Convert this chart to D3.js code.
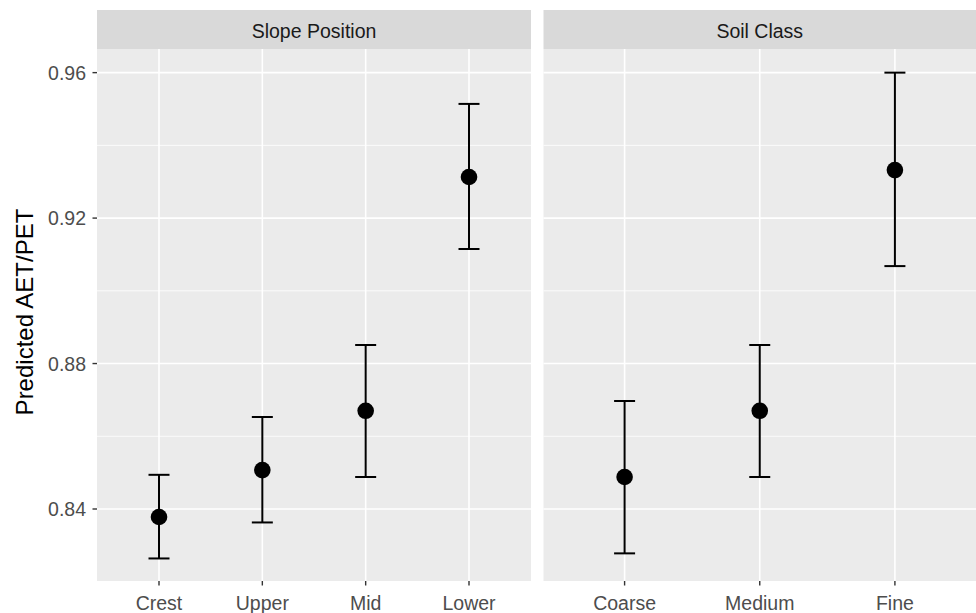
<!DOCTYPE html>
<html>
<head>
<meta charset="utf-8">
<script src="https://cdn.jsdelivr.net/npm/d3@7"></script>
<style>
  body { margin: 0; background: #fff; }
  svg text { font-family: "Liberation Sans", Arial, sans-serif; }
</style>
</head>
<body>
<svg id="chart" width="976" height="613"></svg>
<script>
// facet labels
const facets = ["Slope Position", "Soil Class"];

// Slope Position
const slopeCats = ["Crest", "Upper", "Mid", "Lower"];
const slopeFit = [0.8378, 0.8507, 0.8670, 0.9313];
const slopeLo = [0.8264, 0.8363, 0.8488, 0.9115];
const slopeHi = [0.8494, 0.8653, 0.8851, 0.9514];

// Soil Class
const soilCats = ["Coarse", "Medium", "Fine"];
const soilFit = [0.8488, 0.8670, 0.9332];
const soilLo = [0.8278, 0.8488, 0.9068];
const soilHi = [0.8697, 0.8851, 0.9600];

const yTicks = [0.84, 0.88, 0.92, 0.96];
const yMinor = [0.82, 0.86, 0.90, 0.94];

const svg = d3.select("svg#chart");

const panelTop = 49, panelBottom = 581, stripTop = 10;
const panels = [
  { x0: 97, x1: 531, cats: slopeCats, fit: slopeFit, lo: slopeLo, hi: slopeHi, label: facets[0] },
  { x0: 543.5, x1: 976, cats: soilCats, fit: soilFit, lo: soilLo, hi: soilHi, label: facets[1] }
];

// shared y scale
const yScale = d3.scaleLinear()
  .domain([0.8202, 0.9665])
  .range([panelBottom, panelTop]);

panels.forEach((p, i) => {
  // discrete x with ggplot's 0.6 expansion
  const n = p.cats.length;
  const xLin = d3.scaleLinear().domain([0.4, n + 0.6]).range([p.x0, p.x1]);
  const xScale = c => xLin(p.cats.indexOf(c) + 1);

  const g = svg.append("g");

  // strip
  g.append("rect")
    .attr("x", p.x0).attr("y", stripTop)
    .attr("width", p.x1 - p.x0).attr("height", panelTop - stripTop)
    .attr("fill", "#D9D9D9");
  g.append("text")
    .attr("x", (p.x0 + p.x1) / 2).attr("y", (stripTop + panelTop) / 2 + 1)
    .attr("text-anchor", "middle").attr("dominant-baseline", "central")
    .attr("font-size", 19.5).attr("fill", "#1A1A1A")
    .text(p.label);

  // panel background
  g.append("rect")
    .attr("x", p.x0).attr("y", panelTop)
    .attr("width", p.x1 - p.x0).attr("height", panelBottom - panelTop)
    .attr("fill", "#EBEBEB");

  // grid
  g.selectAll("line.minor").data(yMinor).enter().append("line")
    .attr("x1", p.x0).attr("x2", p.x1)
    .attr("y1", d => yScale(d)).attr("y2", d => yScale(d))
    .attr("stroke", "#fff").attr("stroke-width", 0.8);
  g.selectAll("line.majy").data(yTicks).enter().append("line")
    .attr("x1", p.x0).attr("x2", p.x1)
    .attr("y1", d => yScale(d)).attr("y2", d => yScale(d))
    .attr("stroke", "#fff").attr("stroke-width", 1.6);
  g.selectAll("line.majx").data(p.cats).enter().append("line")
    .attr("x1", d => xScale(d)).attr("x2", d => xScale(d))
    .attr("y1", panelTop).attr("y2", panelBottom)
    .attr("stroke", "#fff").attr("stroke-width", 1.6);

  // x axis ticks + labels
  g.selectAll("line.xt").data(p.cats).enter().append("line")
    .attr("x1", d => xScale(d)).attr("x2", d => xScale(d))
    .attr("y1", panelBottom).attr("y2", panelBottom + 4.5)
    .attr("stroke", "#333").attr("stroke-width", 1.4);
  g.selectAll("text.xl").data(p.cats).enter().append("text")
    .attr("x", d => xScale(d)).attr("y", 610)
    .attr("text-anchor", "middle")
    .attr("font-size", 19.5).attr("fill", "#4D4D4D")
    .text(d => d);

  // error bars
  const rows = p.cats.map((c, k) => ({ c, fit: p.fit[k], lo: p.lo[k], hi: p.hi[k] }));
  const eb = g.selectAll("g.eb").data(rows).enter().append("g");
  eb.append("line")
    .attr("x1", d => xScale(d.c)).attr("x2", d => xScale(d.c))
    .attr("y1", d => yScale(d.lo)).attr("y2", d => yScale(d.hi))
    .attr("stroke", "#000").attr("stroke-width", 2);
  eb.append("line")
    .attr("x1", d => xScale(d.c) - 10.5).attr("x2", d => xScale(d.c) + 10.5)
    .attr("y1", d => yScale(d.lo)).attr("y2", d => yScale(d.lo))
    .attr("stroke", "#000").attr("stroke-width", 2);
  eb.append("line")
    .attr("x1", d => xScale(d.c) - 10.5).attr("x2", d => xScale(d.c) + 10.5)
    .attr("y1", d => yScale(d.hi)).attr("y2", d => yScale(d.hi))
    .attr("stroke", "#000").attr("stroke-width", 2);
  eb.append("circle")
    .attr("cx", d => xScale(d.c)).attr("cy", d => yScale(d.fit))
    .attr("r", 8.3).attr("fill", "#000");
});

// y axis
const yAxis = svg.append("g");
yAxis.selectAll("line").data(yTicks).enter().append("line")
  .attr("x1", 92.5).attr("x2", 97)
  .attr("y1", d => yScale(d)).attr("y2", d => yScale(d))
  .attr("stroke", "#333").attr("stroke-width", 1.4);
yAxis.selectAll("text").data(yTicks).enter().append("text")
  .attr("x", 86).attr("y", d => yScale(d))
  .attr("text-anchor", "end").attr("dominant-baseline", "central")
  .attr("font-size", 19.5).attr("fill", "#4D4D4D")
  .text(d => d3.format(".2f")(d));

svg.append("text")
  .attr("transform", `translate(33, ${(panelTop + panelBottom) / 2 - 3}) rotate(-90)`)
  .attr("text-anchor", "middle")
  .attr("font-size", 24).attr("fill", "#000")
  .text("Predicted AET/PET");
</script>
</body>
</html>
